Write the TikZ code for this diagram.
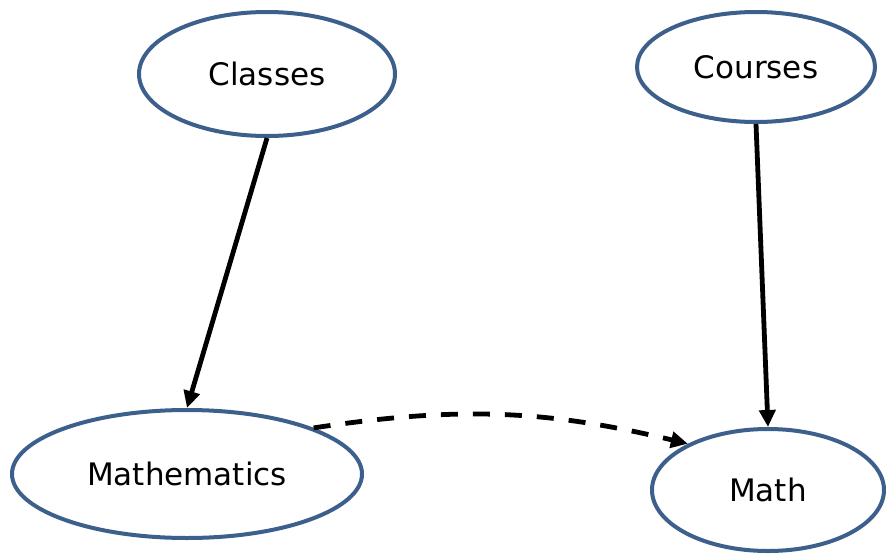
\documentclass[tikz,border=0pt]{standalone}
\usepackage{fontspec}
\setmainfont{DejaVu Sans}
\usetikzlibrary{shapes.geometric,arrows.meta}
\definecolor{ringblue}{RGB}{60,95,140}
\begin{document}
\begin{tikzpicture}[x=1pt,y=1pt,
  concept/.style={ellipse, draw=ringblue, line width=4pt, inner sep=0pt,
    font=\fontsize{31}{37}\selectfont},
  link/.style={line width=4.8pt, -{Triangle[length=17pt,width=16pt]}},
  weaklink/.style={link, dash pattern=on 17pt off 15pt}]
\useasboundingbox (0,0) rectangle (886,-554);
\node[concept, minimum width=256pt, minimum height=124pt] (classes) at (267,-74) {Classes};
\node[concept, minimum width=238pt, minimum height=110pt] (courses) at (756,-67) {Courses};
\node[concept, minimum width=350pt, minimum height=128pt] (mathematics) at (187,-474) {Mathematics};
\node[concept, minimum width=232pt, minimum height=122pt] (math) at (768,-490) {Math};
\draw[link] (classes.south) -- (mathematics.north);
\draw[link] (courses.south) -- (math.north);
\draw[weaklink] (mathematics.20) to[bend left=11] (math.150);
\end{tikzpicture}
\end{document}
